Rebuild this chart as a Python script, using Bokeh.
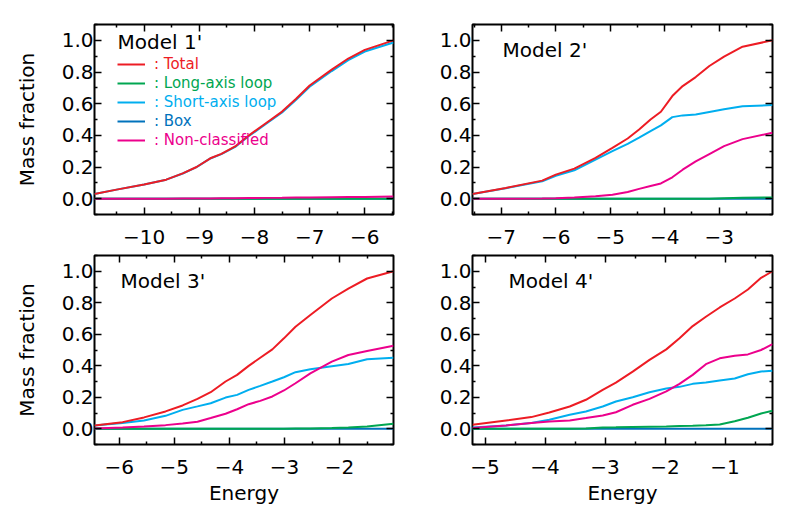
from bokeh.plotting import figure
from bokeh.models import (Range1d, FixedTicker, LinearAxis, Label, Legend, LegendItem,
                          CustomJSTickFormatter, PrintfTickFormatter)
from bokeh.layouts import column, row
from bokeh.embed import file_html
from bokeh.resources import INLINE

# ---------------- data ----------------
series_names = ["Total", "Long-axis loop", "Short-axis loop", "Box", "Non-classified"]
series_colors = ["#ED1C24", "#00A651", "#00AEEF", "#0072BC", "#EC008C"]
model_titles = ["Model 1'", "Model 2'", "Model 3'", "Model 4'"]

y_ticks = [0.0, 0.2, 0.4, 0.6, 0.8, 1.0]
y_minor = [-0.1, 0.1, 0.3, 0.5, 0.7, 0.9, 1.1]

# Model 1'
e1 = [-10.9, -10.5, -10.0, -9.6, -9.3, -9.05, -8.8, -8.6, -8.35, -8.1, -7.8, -7.5, -7.25, -7.0, -6.6, -6.3, -6.0, -5.48]
total1 = [0.03, 0.057, 0.09, 0.12, 0.16, 0.20, 0.255, 0.283, 0.33, 0.40, 0.475, 0.55, 0.63, 0.715, 0.815, 0.885, 0.94, 1.0]
long1 = [0.0] * 18
short1 = [0.03, 0.057, 0.09, 0.12, 0.159, 0.199, 0.254, 0.281, 0.327, 0.396, 0.47, 0.544, 0.623, 0.707, 0.806, 0.875, 0.929, 0.986]
box1 = [0.0] * 18
non1 = [0.0, 0.0, 0.0, 0.0, 0.001, 0.001, 0.001, 0.002, 0.003, 0.004, 0.005, 0.006, 0.007, 0.008, 0.009, 0.010, 0.011, 0.013]
xticks1 = [-10, -9, -8, -7, -6]
xminor1 = [-10.5, -9.5, -8.5, -7.5, -6.5, -5.5]

# Model 2'
e2 = [-7.53, -6.92, -6.25, -6.0, -5.66, -5.27, -4.96, -4.68, -4.47, -4.26, -4.07, -3.86, -3.67, -3.43, -3.18, -2.91, -2.57, -2.02]
total2 = [0.03, 0.068, 0.114, 0.152, 0.190, 0.257, 0.321, 0.380, 0.437, 0.500, 0.549, 0.648, 0.711, 0.768, 0.838, 0.897, 0.960, 1.0]
long2 = [0.0, 0.0, 0.0, 0.0, 0.0, 0.0, 0.0, 0.0, 0.0, 0.0, 0.0, 0.0, 0.0, 0.0, 0.0, 0.003, 0.006, 0.008]
short2 = [0.03, 0.066, 0.110, 0.145, 0.179, 0.247, 0.300, 0.346, 0.385, 0.427, 0.463, 0.515, 0.526, 0.532, 0.548, 0.565, 0.584, 0.591]
box2 = [0.0] * 18
non2 = [0.0, 0.0, 0.001, 0.003, 0.008, 0.015, 0.025, 0.042, 0.062, 0.080, 0.096, 0.135, 0.183, 0.235, 0.282, 0.332, 0.376, 0.416]
xticks2 = [-7, -6, -5, -4, -3]
xminor2 = [-7.5, -6.5, -5.5, -4.5, -3.5, -2.5]

# Model 3'
e3 = [-6.45, -5.94, -5.55, -5.16, -4.85, -4.58, -4.34, -4.07, -3.86, -3.65, -3.44, -3.22, -3.01, -2.80, -2.53, -2.14, -1.84, -1.50, -1.02]
total3 = [0.021, 0.042, 0.072, 0.110, 0.148, 0.190, 0.232, 0.300, 0.342, 0.399, 0.451, 0.504, 0.574, 0.648, 0.722, 0.827, 0.890, 0.954, 1.0]
long3 = [0.0, 0.0, 0.0, 0.0, 0.0, 0.0, 0.0, 0.0, 0.0, 0.0, 0.0, 0.0, 0.0, 0.001, 0.002, 0.005, 0.008, 0.015, 0.032]
short3 = [0.021, 0.036, 0.053, 0.082, 0.120, 0.142, 0.162, 0.198, 0.215, 0.247, 0.272, 0.300, 0.327, 0.359, 0.378, 0.397, 0.411, 0.441, 0.451]
box3 = [0.0] * 19
non3 = [0.002, 0.008, 0.014, 0.023, 0.033, 0.045, 0.068, 0.095, 0.124, 0.156, 0.177, 0.205, 0.243, 0.289, 0.352, 0.426, 0.468, 0.494, 0.527]
xticks3 = [-6, -5, -4, -3, -2]
xminor3 = [-6.5, -5.5, -4.5, -3.5, -2.5, -1.5]

# Model 4'
e4 = [-5.21, -4.65, -4.23, -3.93, -3.59, -3.32, -3.04, -2.82, -2.54, -2.26, -1.98, -1.76, -1.54, -1.32, -1.09, -0.84, -0.62, -0.40, -0.21]
total4 = [0.025, 0.053, 0.074, 0.103, 0.141, 0.184, 0.247, 0.293, 0.363, 0.437, 0.504, 0.574, 0.652, 0.711, 0.770, 0.827, 0.884, 0.958, 1.0]
long4 = [0.0, 0.0, 0.0, 0.0, 0.0, 0.002, 0.008, 0.009, 0.011, 0.013, 0.015, 0.017, 0.019, 0.022, 0.027, 0.048, 0.070, 0.097, 0.114]
short4 = [0.008, 0.021, 0.036, 0.057, 0.089, 0.110, 0.141, 0.173, 0.200, 0.232, 0.255, 0.266, 0.285, 0.293, 0.306, 0.319, 0.346, 0.363, 0.369]
box4 = [0.0] * 19
non4 = [0.004, 0.021, 0.036, 0.046, 0.053, 0.068, 0.084, 0.105, 0.152, 0.190, 0.237, 0.285, 0.342, 0.410, 0.447, 0.464, 0.472, 0.500, 0.538]
xticks4 = [-5, -4, -3, -2, -1]
xminor4 = [-5.5, -4.5, -3.5, -2.5, -1.5, -0.5]

# ---------------- styling ----------------
FONT = "DejaVu Sans"
TICK_FS = "20px"
legend_offsets = [141, 122, 103, 84, 65]   # legend rows, px above frame bottom


def style_axis(ax, hidden=False):
    ax.axis_line_color = None
    ax.major_tick_in = 7
    ax.major_tick_out = 0
    ax.minor_tick_in = 3
    ax.minor_tick_out = 0
    ax.major_tick_line_width = 1.5
    ax.minor_tick_line_width = 1.5
    ax.major_tick_line_color = "black"
    ax.minor_tick_line_color = "black"
    ax.major_label_text_font = FONT
    ax.major_label_text_font_size = TICK_FS
    ax.major_label_text_color = "black"
    ax.axis_label_text_font = FONT
    ax.axis_label_text_font_size = "20px"
    ax.axis_label_text_font_style = "normal"
    ax.axis_label_text_color = "black"
    if hidden:
        ax.major_label_text_font_size = "0px"
        ax.major_label_standoff = 0
        ax.formatter = CustomJSTickFormatter(code="return ''")


def make_panel(e, tot, lng, sht, box, non, xt, xm, title, tx, ty,
               width, height, bl, br, bt, bb, ylabel, xlabel, legend):
    p = figure(width=width, height=height,
               x_range=Range1d(e[0], e[-1]), y_range=Range1d(-0.1, 1.1),
               output_backend="svg", toolbar_location=None,
               min_border_left=bl, min_border_right=br,
               min_border_top=bt, min_border_bottom=bb,
               background_fill_color="white", border_fill_color="white")
    p.xgrid.visible = False
    p.ygrid.visible = False
    p.outline_line_color = "black"
    p.outline_line_width = 2

    xticker = FixedTicker(ticks=xt, minor_ticks=xm)
    yticker = FixedTicker(ticks=y_ticks, minor_ticks=y_minor)

    xa = p.xaxis[0]
    xa.ticker = xticker
    xa.formatter = CustomJSTickFormatter(
        code="return (tick < 0 ? '\u2212' : '') + Math.abs(tick).toString()")
    style_axis(xa)
    xa.major_label_standoff = 15
    if xlabel:
        xa.axis_label = xlabel
        xa.axis_label_standoff = 4

    ya = p.yaxis[0]
    ya.ticker = yticker
    ya.formatter = PrintfTickFormatter(format="%.1f")
    style_axis(ya)
    ya.major_label_standoff = 1
    if ylabel:
        ya.axis_label = ylabel
        ya.axis_label_standoff = 20

    top = LinearAxis(ticker=FixedTicker(ticks=xt, minor_ticks=xm))
    style_axis(top, hidden=True)
    p.add_layout(top, "above")
    right = LinearAxis(ticker=FixedTicker(ticks=y_ticks, minor_ticks=y_minor))
    style_axis(right, hidden=True)
    p.add_layout(right, "right")

    vals = [tot, lng, sht, box, non]
    draw_order = [3, 1, 2, 4, 0]  # Box, Long, Short, Non, Total
    rends = {}
    for i in draw_order:
        rends[i] = p.line(e, vals[i], line_color=series_colors[i], line_width=2)

    p.add_layout(Label(x=e[0] + tx * (e[-1] - e[0]), y=ty, text=title,
                       text_font=FONT, text_font_size="20px", text_color="black",
                       text_baseline="middle", text_align="left"))

    if legend:
        for i in range(5):
            lg = Legend(items=[LegendItem(label=": " + series_names[i], renderers=[rends[i]])],
                        location=(23, legend_offsets[i]),
                        glyph_width=28, glyph_height=14, label_height=14,
                        label_standoff=9, label_text_font=FONT,
                        label_text_font_size="15px", label_text_color=series_colors[i],
                        border_line_color=None, background_fill_alpha=0,
                        padding=0, margin=0, spacing=0)
            p.add_layout(lg)
    return p


p1 = make_panel(e1, total1, long1, short1, box1, non1, xticks1, xminor1, model_titles[0], 0.077, 0.99,
                400, 250, 94, 7, 24, 36, "Mass fraction", None, True)
p2 = make_panel(e2, total2, long2, short2, box2, non2, xticks2, xminor2, model_titles[1], 0.10, 0.939,
                378, 250, 72, 6, 24, 36, None, None, False)
p3 = make_panel(e3, total3, long3, short3, box3, non3, xticks3, xminor3, model_titles[2], 0.087, 0.939,
                400, 258, 94, 7, 5, 64, "Mass fraction", "Energy", False)
p4 = make_panel(e4, total4, long4, short4, box4, non4, xticks4, xminor4, model_titles[3], 0.12, 0.939,
                378, 258, 72, 6, 5, 64, None, "Energy", False)

layout = column(row(p1, p2), row(p3, p4))
open("out.html", "w").write(file_html(layout, INLINE))
